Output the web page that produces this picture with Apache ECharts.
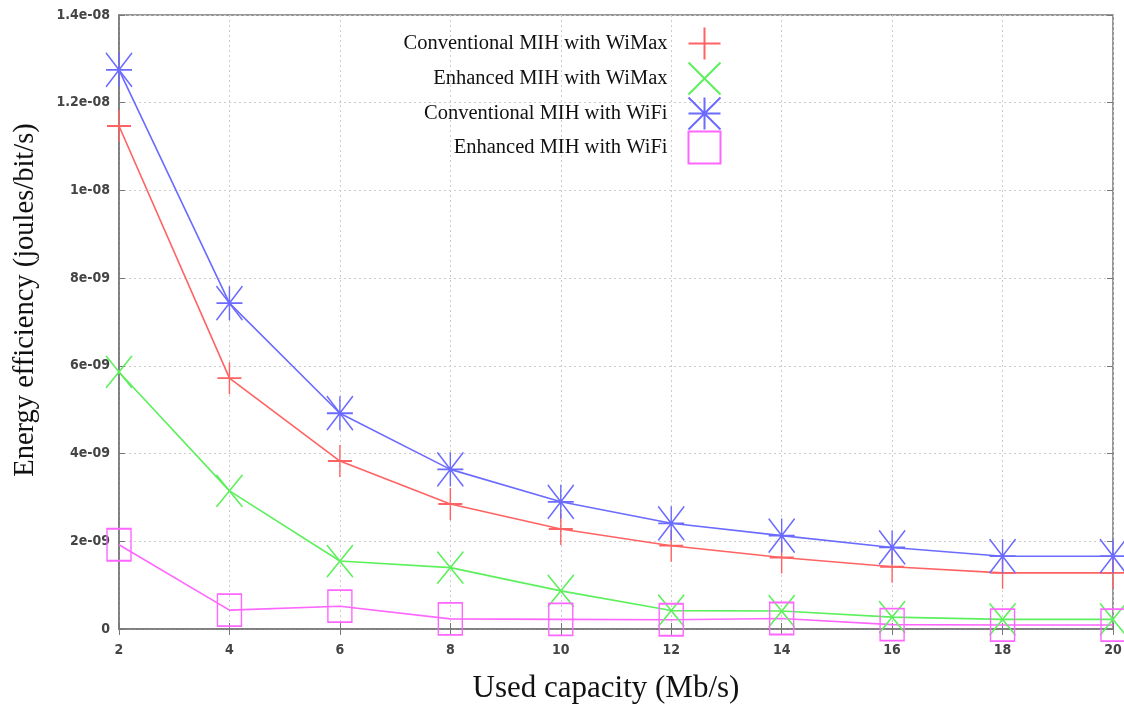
<!DOCTYPE html>
<html>
<head>
<meta charset="utf-8">
<script src="https://cdn.jsdelivr.net/npm/echarts@6/dist/echarts.min.js"></script>
<style>html,body{margin:0;padding:0;background:#fff}#c{width:1124px;height:704px}</style>
</head>
<body>
<div id="c"></div>
<script>
const capacity = [2, 4, 6, 8, 10, 12, 14, 16, 18, 20];
const convWiMax = [11.47, 5.72, 3.83, 2.85, 2.28, 1.90, 1.63, 1.42, 1.28, 1.28];
const enhWiMax  = [5.86, 3.15, 1.55, 1.40, 0.87, 0.42, 0.41, 0.27, 0.22, 0.22];
const convWiFi  = [12.75, 7.43, 4.92, 3.64, 2.90, 2.41, 2.13, 1.86, 1.66, 1.66];
const enhWiFi   = [1.92, 0.43, 0.52, 0.23, 0.22, 0.21, 0.24, 0.10, 0.09, 0.09];
const seriesNames = ['Conventional MIH with WiMax', 'Enhanced MIH with WiMax', 'Conventional MIH with WiFi', 'Enhanced MIH with WiFi'];
const yTickLabels = ['0', '2e-09', '4e-09', '6e-09', '8e-09', '1e-08', '1.2e-08', '1.4e-08'];
const scale = 1e-9;

const colors = ['#ff6262', '#5cf05c', '#6b6bff', '#ff66ff'];
const symbols = [
  'path://M0,5L10,5M5,0L5,10',
  'path://M0,0L10,10M10,0L0,10',
  'path://M0,5L10,5M5,0L5,10M0,0L10,10M10,0L0,10',
  'path://M0,0L10,0L10,10L0,10Z'
];
const symSizes = [[24, 32], [26, 32], [26, 34], [24, 32]];
const allData = [convWiMax, enhWiMax, convWiFi, enhWiFi];

const series = seriesNames.map((n, i) => ({
  name: n,
  type: 'line',
  data: capacity.map((x, j) => [x, allData[i][j] * scale]),
  symbol: symbols[i],
  symbolSize: symSizes[i],
  symbolKeepAspect: false,
  showAllSymbol: true,
  clip: false,
  lineStyle: { color: colors[i], width: 1.6 },
  itemStyle: { color: 'none', borderColor: colors[i], borderWidth: 1.6 },
  emphasis: { disabled: true },
  animation: false
}));

const legendTops = [25, 60, 95, 129];
const legends = seriesNames.map((n, i) => ({
  data: [{ name: n, icon: symbols[i] }],
  right: 401,
  top: legendTops[i],
  padding: 0,
  align: 'right',
  itemWidth: 32,
  itemHeight: 32,
  itemGap: 0,
  textStyle: { fontFamily: 'Liberation Serif', fontSize: 20.5, color: '#111', padding: [0, 16, 0, 0] },
  selectedMode: false
}));

const chart = echarts.init(document.getElementById('c'), null, { renderer: 'canvas' });
chart.setOption({
  animation: false,
  backgroundColor: '#fff',
  grid: { left: 119, right: 11, top: 15, bottom: 75, outerBoundsMode: 'none', containLabel: false, show: true, borderColor: '#777', borderWidth: 1.5, backgroundColor: 'transparent' },
  legend: legends,
  xAxis: [{
    type: 'value', min: 2, max: 20, interval: 2,
    name: 'Used capacity (Mb/s)', nameLocation: 'middle', nameGap: 44,
    nameTextStyle: { fontFamily: 'Liberation Serif', fontSize: 31, color: '#111', padding: [0, 20, 0, 0] },
    axisLine: { lineStyle: { color: '#777', width: 1.5 } },
    axisTick: { inside: true, length: 6, lineStyle: { color: '#777' } },
    axisLabel: { margin: 14, fontFamily: 'DejaVu Sans Condensed, DejaVu Sans', fontSize: 14, color: '#444', fontWeight: 'bold' },
    splitLine: { lineStyle: { color: '#cccccc', type: [2, 3] } }
  }, {
    type: 'value', min: 2, max: 20, interval: 2, position: 'top',
    axisLine: { show: false }, axisLabel: { show: false },
    axisTick: { inside: true, length: 6, lineStyle: { color: '#777' } },
    splitLine: { show: false }
  }],
  yAxis: [{
    type: 'value', min: 0, max: 1.4e-8, interval: 2e-9,
    name: 'Energy efficiency (joules/bit/s)', nameLocation: 'middle', nameGap: 79,
    nameTextStyle: { fontFamily: 'Liberation Serif', fontSize: 28.5, color: '#111', padding: [0, 0, 0, 44] },
    axisLine: { show: true, lineStyle: { color: '#777', width: 1.5 } },
    axisTick: { show: true, inside: true, length: 6, lineStyle: { color: '#777' } },
    axisLabel: {
      margin: 9, fontFamily: 'DejaVu Sans Condensed, DejaVu Sans', fontSize: 14, color: '#444', fontWeight: 'bold',
      formatter: (v) => yTickLabels[Math.round(v / 2e-9)]
    },
    splitLine: { lineStyle: { color: '#cccccc', type: [2, 3] } }
  }, {
    type: 'value', min: 0, max: 1.4e-8, interval: 2e-9, position: 'right',
    axisLine: { show: false }, axisLabel: { show: false },
    axisTick: { show: true, inside: true, length: 6, lineStyle: { color: '#777' } },
    splitLine: { show: false }
  }],
  series: series
});
</script>
</body>
</html>
